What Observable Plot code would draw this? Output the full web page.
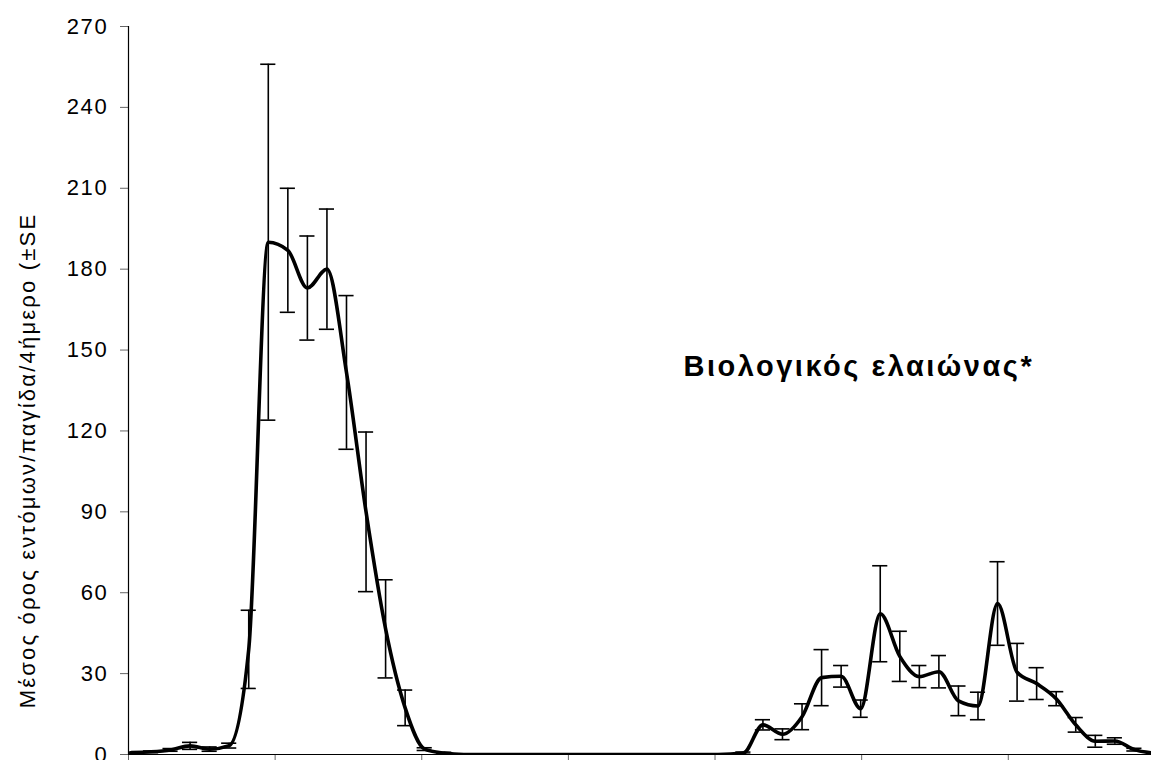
<!DOCTYPE html>
<html>
<head>
<meta charset="utf-8">
<script src="https://cdn.jsdelivr.net/npm/d3@7"></script>
<script src="https://cdn.jsdelivr.net/npm/@observablehq/plot@0.6"></script>
<style>
  html, body { margin: 0; padding: 0; background: #fff; }
  #chart svg { display: block; }
  #chart svg [aria-label="y-axis tick label"] text { letter-spacing: 1.7px; }
  #chart svg .ytitle text { letter-spacing: 2.2px; }
  #chart svg .annot text { letter-spacing: 2.5px; }
</style>
</head>
<body>
<div id="chart"></div>
<script>
// Sampling days (4-day periods)
const days = [
  0.6, 4.6, 8.6, 12.6, 16.6, 20.6, 24.6, 28.6, 32.6, 36.6, 40.6, 44.6, 48.6, 52.6, 56.6, 60.6, 64.6,
  68.6, 72.6, 76.6, 80.6, 84.6, 88.6, 92.6, 96.6, 100.6, 104.6, 108.6, 112.6, 116.6, 120.6,
  125.8, 129.8, 133.8, 137.8, 141.8, 145.8, 149.8, 153.8, 157.8, 161.8, 165.8, 169.8, 173.8,
  177.8, 181.8, 185.8, 189.8, 193.8, 197.8, 201.8, 205.8, 209.8
];
// Mean insects per trap per 4-day period
const means = [
  0.7, 1.0, 1.7, 3.2, 2.0, 3.3, 39, 190, 187, 173, 180, 141.7, 90, 46.6, 17.3, 2.0, 0.5,
  0, 0, 0, 0, 0, 0, 0, 0, 0, 0, 0, 0, 0, 0,
  0.5, 11, 7.5, 14, 28.5, 29, 17, 52.2, 36.4, 28.9, 30.7, 19.9, 18, 56, 30.5, 26.3, 20.7,
  11, 4.9, 5, 1.8, 0.5
];
// Standard errors
const se = [
  0.2, 0.3, 0.5, 1.3, 0.8, 0.9, 14.5, 66, 23, 19.3, 22.3, 28.5, 29.6, 18.2, 6.6, 0.5, 0.3,
  0, 0, 0, 0, 0, 0, 0, 0, 0, 0, 0, 0, 0, 0,
  0.4, 1.9, 2, 4.8, 10.4, 4, 3.2, 17.8, 9.3, 4.1, 6, 5.5, 5.1, 15.5, 10.7, 5.9, 2.6,
  2.7, 2.2, 1.2, 0.5, 0.3
];
const yTicks = [0, 30, 60, 90, 120, 150, 180, 210, 240, 270];
const xTicks = [0, 30, 60, 90, 120, 150, 180, 210];
const yTitle = "Μέσος όρος εντόμων/παγίδα/4ήμερο (±SE";
const annotation = "Βιολογικός ελαιώνας*";

const data = days.map((d, i) => ({day: d, mean: means[i], se: se[i]}));
const capHalf = 1.55; // half width of error-bar caps, in x units

const chart = Plot.plot({
  width: 1151,
  height: 760,
  marginLeft: 128,
  marginRight: 0,
  marginTop: 26,
  marginBottom: 6,
  style: {
    fontFamily: "'Liberation Sans', Arial, sans-serif",
    background: "white",
    color: "black",
    overflow: "visible"
  },
  x: {domain: [0, 209.3]},
  y: {domain: [0, 270]},
  marks: [
    Plot.axisY({ticks: yTicks, tickSize: 8, tickPadding: 12, fontSize: 22, stroke: "#666", fill: "black", label: null}),
    Plot.axisX({ticks: xTicks, tickSize: 8, tickFormat: () => "", stroke: "#666", label: null}),
    Plot.ruleX([0], {stroke: "black", strokeWidth: 1.2}),
    Plot.ruleY([0], {stroke: "black", strokeWidth: 1.2}),
    Plot.ruleX(data, {x: "day", y1: d => d.mean - d.se, y2: d => d.mean + d.se, stroke: "black", strokeWidth: 1.6, clip: true}),
    Plot.ruleY(data, {y: d => d.mean + d.se, x1: d => d.day - capHalf, x2: d => d.day + capHalf, stroke: "black", strokeWidth: 1.6, clip: true}),
    Plot.ruleY(data, {y: d => d.mean - d.se, x1: d => d.day - capHalf, x2: d => d.day + capHalf, stroke: "black", strokeWidth: 1.6, clip: true}),
    Plot.line(data, {x: "day", y: "mean", curve: "monotone-x", stroke: "black", strokeWidth: 3.6, clip: true}),
    Plot.text([yTitle], {frameAnchor: "left", rotate: -90, dx: -101, dy: 70, fontSize: 22, textAnchor: "middle", fill: "black", className: "ytitle"}),
    Plot.text([annotation], {frameAnchor: "top-left", dx: 555, dy: 329, fontSize: 29, fontWeight: "bold", textAnchor: "start", fill: "black", className: "annot"})
  ]
});
document.getElementById("chart").appendChild(chart);
</script>
</body>
</html>
